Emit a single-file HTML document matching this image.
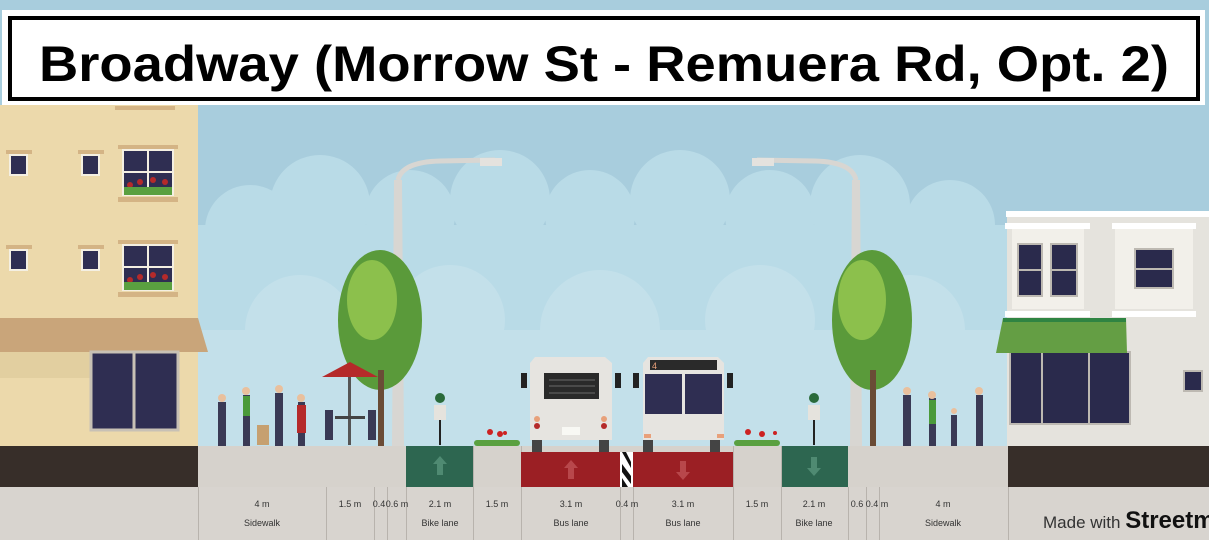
<!DOCTYPE html>
<html><head><meta charset="utf-8"><style>
html,body{margin:0;padding:0;width:1209px;height:540px;overflow:hidden;background:#a8cddd}
svg{display:block}
</style></head><body>
<svg width="1209" height="540" viewBox="0 0 1209 540" xmlns="http://www.w3.org/2000/svg" font-family="Liberation Sans, sans-serif">
<rect width="1209" height="540" fill="#a8cddd"/>
<!-- clouds -->
<g fill="#b9dbe7">
<circle cx="250" cy="230" r="45"/><circle cx="320" cy="205" r="50"/><circle cx="410" cy="215" r="45"/><circle cx="500" cy="200" r="50"/><circle cx="590" cy="215" r="45"/><circle cx="680" cy="200" r="50"/><circle cx="770" cy="215" r="45"/><circle cx="860" cy="205" r="50"/><circle cx="950" cy="225" r="45"/>
<rect x="198" y="225" width="810" height="225"/>
</g>
<g fill="#c3e0ea"><circle cx="300" cy="330" r="55"/><circle cx="450" cy="320" r="55"/><circle cx="600" cy="330" r="60"/><circle cx="760" cy="320" r="55"/><circle cx="910" cy="330" r="55"/><rect x="198" y="330" width="810" height="120"/></g>
<!-- left building -->
<rect x="0" y="105" width="198" height="342" fill="#ecd9ab"/>
<rect x="115" y="106" width="60" height="4" fill="#d4b485"/>
<g fill="#d4b485"><rect x="6" y="150" width="26" height="4"/><rect x="78" y="150" width="26" height="4"/><rect x="118" y="145" width="60" height="4"/><rect x="6" y="245" width="26" height="4"/><rect x="78" y="245" width="26" height="4"/><rect x="118" y="240" width="60" height="4"/><rect x="118" y="197" width="60" height="5"/><rect x="118" y="292" width="60" height="5"/></g>
<g fill="#2f2e52" stroke="#f4efe2" stroke-width="2"><rect x="10" y="155" width="17" height="20"/><rect x="82" y="155" width="17" height="20"/><rect x="123" y="150" width="50" height="45"/><rect x="10" y="250" width="17" height="20"/><rect x="82" y="250" width="17" height="20"/><rect x="123" y="245" width="50" height="45"/></g>
<g stroke="#f4efe2" stroke-width="2"><line x1="148" y1="150" x2="148" y2="195"/><line x1="123" y1="172" x2="173" y2="172"/><line x1="148" y1="245" x2="148" y2="290"/><line x1="123" y1="267" x2="173" y2="267"/></g>
<g fill="#b52a2a"><circle cx="130" cy="185" r="3"/><circle cx="140" cy="182" r="3"/><circle cx="153" cy="180" r="3"/><circle cx="165" cy="182" r="3"/><circle cx="130" cy="280" r="3"/><circle cx="140" cy="277" r="3"/><circle cx="153" cy="275" r="3"/><circle cx="165" cy="277" r="3"/></g>
<g fill="#5aa040"><rect x="124" y="187" width="48" height="8"/><rect x="124" y="282" width="48" height="8"/></g>
<polygon points="0,318 198,318 208,352 0,352" fill="#c9a57a"/>
<rect x="0" y="352" width="90" height="26" fill="#e2cfa0"/>
<rect x="91" y="352" width="87" height="78" fill="#2f2e52" stroke="#c8c1b5" stroke-width="3"/>
<line x1="134" y1="352" x2="134" y2="430" stroke="#c8c1b5" stroke-width="3"/>
<!-- right building -->
<rect x="1007" y="211" width="202" height="236" fill="#e5e3dd"/>
<rect x="1006" y="211" width="203" height="6" fill="#fff"/>
<rect x="1005" y="223" width="85" height="6" fill="#fff"/><rect x="1012" y="229" width="72" height="80" fill="#f2f0ea"/>
<rect x="1112" y="223" width="84" height="6" fill="#fff"/><rect x="1115" y="229" width="78" height="80" fill="#f2f0ea"/>
<rect x="1005" y="311" width="85" height="6" fill="#fff"/><rect x="1112" y="311" width="84" height="6" fill="#fff"/>
<g fill="#2a2a4c" stroke="#bdb9b2" stroke-width="2"><rect x="1018" y="244" width="24" height="52"/><rect x="1051" y="244" width="26" height="52"/><rect x="1135" y="249" width="38" height="39"/><rect x="1184" y="371" width="18" height="20"/><rect x="1010" y="352" width="120" height="72"/></g>
<g stroke="#bdb9b2" stroke-width="2"><line x1="1018" y1="270" x2="1042" y2="270"/><line x1="1051" y1="270" x2="1077" y2="270"/><line x1="1135" y1="269" x2="1173" y2="269"/><line x1="1042" y1="352" x2="1042" y2="424"/><line x1="1089" y1="352" x2="1089" y2="424"/></g>
<polygon points="1003,318 1126,318 1127,353 996,353" fill="#649e44"/>
<rect x="1003" y="318" width="123" height="4" fill="#2f8442"/>
<!-- ground -->
<rect x="0" y="446" width="198" height="41" fill="#372e29"/>
<rect x="1008" y="446" width="201" height="41" fill="#372e29"/>
<rect x="198" y="446" width="810" height="41" fill="#d6d2cc"/>
<rect x="0" y="487" width="1209" height="53" fill="#d8d4cf"/>
<rect x="406" y="446" width="67" height="41" fill="#2d6650"/>
<rect x="781" y="446" width="67" height="41" fill="#2d6650"/>
<rect x="521" y="452" width="99" height="35" fill="#9b1f24"/>
<rect x="633" y="452" width="100" height="35" fill="#9b1f24"/>
<rect x="620" y="452" width="13" height="35" fill="#fff"/>
<g fill="#111"><polygon points="622,452 626,452 631,462 631,468"/><polygon points="622,464 631,476 631,484 622,472"/><polygon points="622,478 628,487 622,487"/></g>
<g fill="#4f8a72"><polygon points="440,456 447,464 443,464 443,475 437,475 437,464 433,464"/><polygon points="814,476 807,468 811,468 811,457 817,457 817,468 821,468"/></g>
<g fill="#b8474b"><polygon points="571,460 578,468 574,468 574,479 568,479 568,468 564,468"/><polygon points="683,480 676,472 680,472 680,461 686,461 686,472 690,472"/></g>
<!-- planters -->
<g fill="#5aa040"><rect x="474" y="440" width="46" height="6" rx="3"/><rect x="734" y="440" width="46" height="6" rx="3"/></g>
<g fill="#c22"><circle cx="490" cy="432" r="3"/><circle cx="500" cy="434" r="3"/><circle cx="748" cy="432" r="3"/><circle cx="762" cy="434" r="3"/><circle cx="505" cy="433" r="2"/><circle cx="775" cy="433" r="2"/></g>
<!-- lamps -->
<g fill="#d8d6d2"><polygon points="394,180 402,180 404,446 392,446"/><polygon points="852,180 860,180 862,446 850,446"/></g>
<path d="M398 180 Q402 162 440 161 L495 160" stroke="#d8d6d2" stroke-width="5" fill="none"/>
<path d="M856 180 Q852 162 815 161 L757 160" stroke="#d8d6d2" stroke-width="5" fill="none"/>
<rect x="480" y="158" width="22" height="8" fill="#e4e2de"/><rect x="752" y="158" width="22" height="8" fill="#e4e2de"/>
<!-- trees -->
<g fill="#5a9a3a"><ellipse cx="380" cy="320" rx="42" ry="70"/><ellipse cx="872" cy="320" rx="40" ry="70"/></g>
<g fill="#8cc04c"><ellipse cx="372" cy="300" rx="25" ry="40"/><ellipse cx="862" cy="300" rx="24" ry="40"/></g>
<g fill="#6a4c36"><rect x="378" y="370" width="6" height="76"/><rect x="870" y="370" width="6" height="76"/></g>
<!-- umbrella & table -->
<polygon points="322,377 350,362 378,377" fill="#b52a2a"/><rect x="348" y="377" width="3" height="68" fill="#555"/>
<rect x="335" y="416" width="30" height="3" fill="#444"/>
<!-- people -->
<g fill="#3a3a55">
<rect x="218" y="402" width="8" height="44"/><rect x="243" y="395" width="7" height="51"/><rect x="275" y="393" width="8" height="53"/><rect x="298" y="402" width="7" height="44"/><rect x="325" y="410" width="8" height="30"/><rect x="368" y="410" width="8" height="30"/>
<rect x="903" y="395" width="8" height="51"/><rect x="929" y="398" width="7" height="48"/><rect x="951" y="415" width="6" height="31"/><rect x="976" y="395" width="7" height="51"/>
</g>
<g fill="#e9c09d"><circle cx="222" cy="398" r="4"/><circle cx="246" cy="391" r="4"/><circle cx="279" cy="389" r="4"/><circle cx="301" cy="398" r="4"/><circle cx="907" cy="391" r="4"/><circle cx="932" cy="395" r="4"/><circle cx="954" cy="411" r="3"/><circle cx="979" cy="391" r="4"/></g>
<g fill="#c6a070"><rect x="257" y="425" width="12" height="20"/></g>
<g fill="#b52a2a"><rect x="297" y="405" width="9" height="28"/></g>
<g fill="#4a9a3a"><rect x="929" y="400" width="7" height="24"/><rect x="243" y="396" width="7" height="20"/></g>
<!-- cyclists -->
<g stroke="#222" stroke-width="2" fill="none"><line x1="440" y1="410" x2="440" y2="445"/><line x1="814" y1="410" x2="814" y2="445"/></g>
<g fill="#2a6a3a"><circle cx="440" cy="398" r="5"/><circle cx="814" cy="398" r="5"/></g>
<g fill="#e5e3dd"><rect x="434" y="405" width="12" height="15"/><rect x="808" y="405" width="12" height="15"/></g>
<!-- buses -->
<polygon points="535,357 605,357 612,363 612,440 530,440 530,363" fill="#e6e4e0"/>
<rect x="544" y="373" width="55" height="26" fill="#2a2a2a"/>
<g stroke="#555" stroke-width="1.5"><line x1="549" y1="380" x2="595" y2="380"/><line x1="549" y1="386" x2="595" y2="386"/><line x1="549" y1="393" x2="595" y2="393"/></g>
<rect x="562" y="427" width="18" height="8" fill="#f8f8f4"/>
<g fill="#e8a07a"><circle cx="537" cy="419" r="3"/><circle cx="604" cy="419" r="3"/></g>
<g fill="#b52a2a"><circle cx="537" cy="426" r="3"/><circle cx="604" cy="426" r="3"/></g>
<g fill="#444"><rect x="532" y="440" width="10" height="12"/><rect x="599" y="440" width="10" height="12"/><rect x="643" y="440" width="10" height="12"/><rect x="710" y="440" width="10" height="12"/></g>
<g fill="#222"><rect x="521" y="373" width="6" height="15"/><rect x="615" y="373" width="6" height="15"/><rect x="633" y="373" width="6" height="15"/><rect x="727" y="373" width="6" height="15"/></g>
<polygon points="648,357 718,357 724,363 724,440 643,440 643,363" fill="#e6e4e0"/>
<rect x="650" y="360" width="67" height="10" fill="#2a2a2a"/>
<text x="652" y="369" font-size="9" fill="#e8a07a">4</text>
<rect x="645" y="374" width="37" height="40" fill="#2f2e52"/><rect x="685" y="374" width="37" height="40" fill="#2f2e52"/>
<g fill="#e8a07a"><rect x="644" y="434" width="7" height="4"/><rect x="717" y="434" width="7" height="4"/></g>
<!-- divider lines -->
<g stroke="#b8b3ad" stroke-width="1">
<line x1="198.5" y1="487" x2="198.5" y2="540"/><line x1="326.5" y1="487" x2="326.5" y2="540"/><line x1="374.5" y1="487" x2="374.5" y2="540"/><line x1="387.5" y1="487" x2="387.5" y2="540"/><line x1="406.5" y1="487" x2="406.5" y2="540"/><line x1="473.5" y1="487" x2="473.5" y2="540"/><line x1="521.5" y1="487" x2="521.5" y2="540"/><line x1="620.5" y1="487" x2="620.5" y2="540"/><line x1="633.5" y1="487" x2="633.5" y2="540"/><line x1="733.5" y1="487" x2="733.5" y2="540"/><line x1="781.5" y1="487" x2="781.5" y2="540"/><line x1="848.5" y1="487" x2="848.5" y2="540"/><line x1="866.5" y1="487" x2="866.5" y2="540"/><line x1="879.5" y1="487" x2="879.5" y2="540"/><line x1="1008.5" y1="487" x2="1008.5" y2="540"/>
<line x1="473.5" y1="446" x2="473.5" y2="487"/><line x1="781.5" y1="446" x2="781.5" y2="487"/><line x1="733.5" y1="446" x2="733.5" y2="487"/><line x1="521.5" y1="446" x2="521.5" y2="452"/>
</g>
<g font-size="9" fill="#333" text-anchor="middle">
<text x="262" y="507">4 m</text><text x="262" y="526">Sidewalk</text>
<text x="350" y="507">1.5 m</text><text x="379" y="507">0.4</text><text x="397" y="507">0.6 m</text>
<text x="440" y="507">2.1 m</text><text x="440" y="526">Bike lane</text>
<text x="497" y="507">1.5 m</text>
<text x="571" y="507">3.1 m</text><text x="571" y="526">Bus lane</text>
<text x="627" y="507">0.4 m</text>
<text x="683" y="507">3.1 m</text><text x="683" y="526">Bus lane</text>
<text x="757" y="507">1.5 m</text>
<text x="814" y="507">2.1 m</text><text x="814" y="526">Bike lane</text>
<text x="857" y="507">0.6</text><text x="877" y="507">0.4 m</text>
<text x="943" y="507">4 m</text><text x="943" y="526">Sidewalk</text>
</g>
<text x="1043" y="528" font-size="17" fill="#333">Made with <tspan font-size="24" fill="#111" font-weight="bold">Streetmix</tspan></text>
<!-- title -->
<rect x="2" y="10" width="1203" height="95" fill="#fff"/>
<rect x="10" y="18" width="1188" height="81" fill="none" stroke="#000" stroke-width="4"/>
<text x="604" y="81" font-size="50" font-weight="bold" text-anchor="middle" fill="#000" textLength="1130" lengthAdjust="spacingAndGlyphs">Broadway (Morrow St - Remuera Rd, Opt. 2)</text>
</svg>
</body></html>
